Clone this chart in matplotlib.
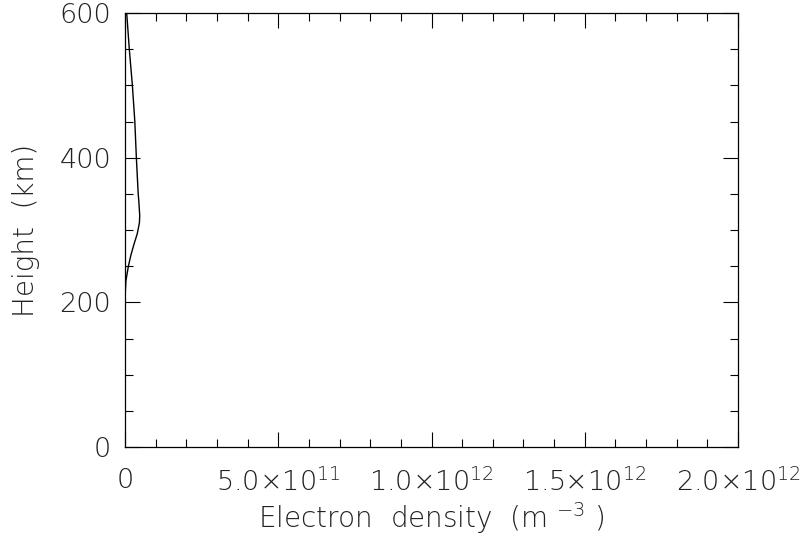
import matplotlib
matplotlib.use('Agg')
import matplotlib.pyplot as plt
from matplotlib.ticker import MultipleLocator

plt.rcParams['font.family'] = ['DejaVu Sans']
plt.rcParams['mathtext.fontset'] = 'custom'
plt.rcParams['mathtext.rm'] = 'DejaVu Sans:light'
plt.rcParams['mathtext.default'] = 'regular'

# profile
height_km = [0, 50, 100, 150, 200, 215, 230, 250, 265, 280, 295, 310, 320, 340, 350,
             375, 400, 425, 450, 475, 500, 550, 600]
density = [0.0, 0.0, 0.0, 0.0, 0.05e10, 0.1e10, 0.3e10, 1.1e10, 1.9e10, 2.9e10, 4.0e10,
           4.7e10, 4.8e10, 4.5e10, 4.3e10, 4.0e10, 3.7e10, 3.45e10, 3.2e10, 2.8e10,
           2.4e10, 1.4e10, 0.55e10]

x_ticks = [0, 5e11, 1e12, 1.5e12, 2e12]
x_tick_labels = ['0', r'5.0×10$^{11}$', r'1.0×10$^{12}$', r'1.5×10$^{12}$', r'2.0×10$^{12}$']

fig = plt.figure(figsize=(8.05, 5.36), dpi=100)
ax = fig.add_axes([0.1553, 0.166, 0.7615, 0.8097])

ax.plot(density, height_km, color='black', linewidth=1.0)

ax.set_xlim(0, 2e12)
ax.set_ylim(0, 600)
ax.set_xticks(x_ticks)
ax.set_xticklabels(x_tick_labels)
ax.xaxis.set_minor_locator(MultipleLocator(1e11))
ax.yaxis.set_major_locator(MultipleLocator(200))
ax.yaxis.set_minor_locator(MultipleLocator(50))

ax.tick_params(which='both', direction='in', top=True, right=True, width=0.8,
               colors='black', labelsize=19.5, labelcolor='#222222')
ax.tick_params(which='major', length=11)
ax.tick_params(axis='x', which='major', pad=15)
ax.tick_params(axis='y', which='major', pad=10)
ax.tick_params(which='minor', length=6)
for lab in ax.get_xticklabels() + ax.get_yticklabels():
    lab.set_fontweight('light')
for s in ax.spines.values():
    s.set_linewidth(0.9)

ax.set_xlabel(r'Electron  density  (m $^{-3}$ )', fontsize=20, fontweight='light',
              color='#222222', labelpad=3)
ax.set_ylabel('Height  (km)', fontsize=20, fontweight='light', color='#222222', labelpad=14)

fig.savefig('out.png', dpi=100)
